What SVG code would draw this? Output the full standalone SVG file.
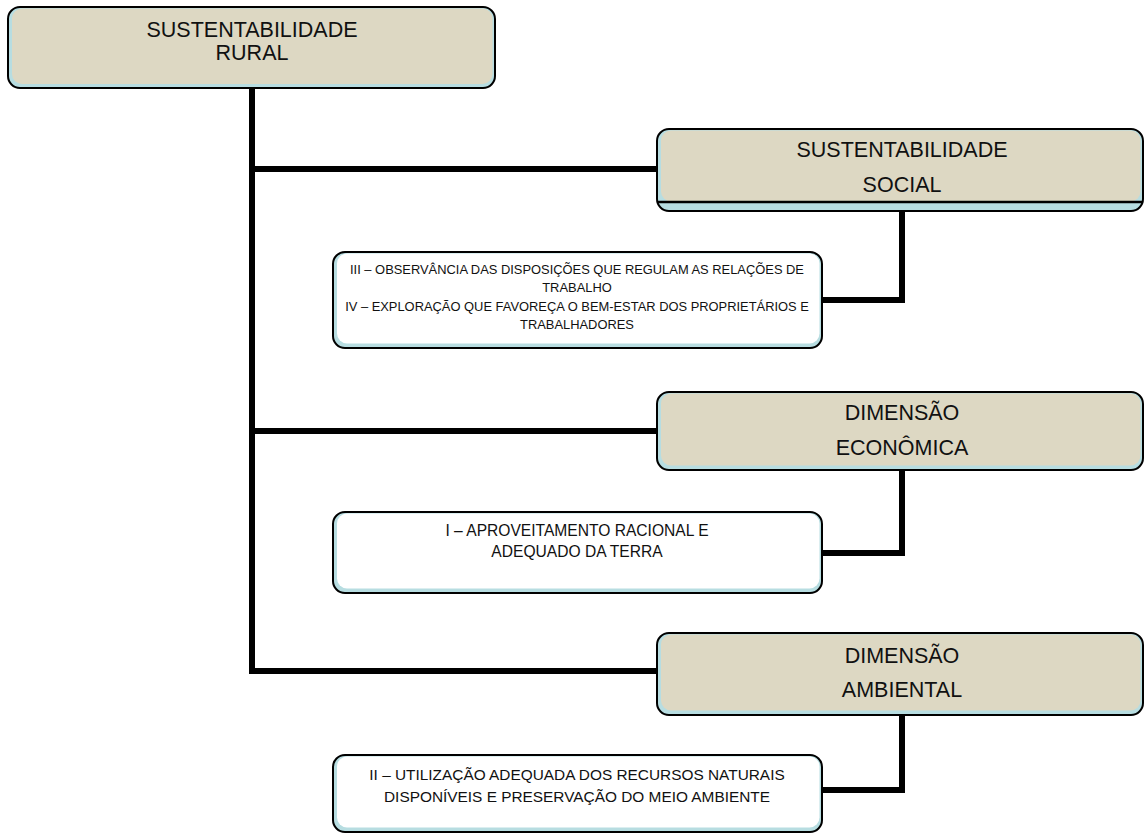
<svg xmlns="http://www.w3.org/2000/svg" width="1145" height="834" viewBox="0 0 1145 834">
  <style>
    .frame { fill: #B7DDE1; stroke: #000; stroke-width: 2; }
    .tan { fill: #DDD8C3; }
    .white { fill: #FFFFFF; }
    .title { font-family: "Liberation Sans", Arial, sans-serif; font-size: 21.5px; fill: #111; text-anchor: middle; }
    .item { font-family: "Liberation Sans", Arial, sans-serif; fill: #111; text-anchor: middle; }
    .wire { fill: none; stroke: #000; stroke-width: 6; stroke-linejoin: miter; stroke-linecap: butt; }
  </style>

  <!-- connectors -->
  <g id="connectors">
    <path class="wire" d="M252,88 V671 H657"/>
    <path class="wire" d="M252,169 H657"/>
    <path class="wire" d="M252,431 H657"/>
    <path class="wire" d="M902,211 V300 H822"/>
    <path class="wire" d="M902,470 V553 H822"/>
    <path class="wire" d="M902,715 V790 H822"/>
  </g>

  <!-- root -->
  <g id="sustentabilidade-rural">
    <rect class="frame" x="8" y="7" width="487" height="81" rx="12"/>
    <rect class="tan" x="12" y="8.5" width="480.5" height="75.5" rx="10"/>
    <text class="title" x="252" y="37">SUSTENTABILIDADE</text>
    <text class="title" x="252" y="60">RURAL</text>
  </g>

  <g id="sustentabilidade-social">
    <rect class="frame" x="657" y="129" width="486" height="82" rx="12"/>
    <rect class="tan" x="661" y="130.5" width="479.5" height="71" rx="10"/>
    <line x1="658" y1="202" x2="1143" y2="202" stroke="#000" stroke-width="2.5"/>
    <text class="title" x="902" y="157">SUSTENTABILIDADE</text>
    <text class="title" x="902" y="192">SOCIAL</text>
  </g>

  <g id="item-social">
    <rect class="frame" x="333" y="252" width="489" height="96" rx="12"/>
    <rect class="white" x="337" y="253.5" width="482.5" height="90" rx="10"/>
    <g class="item" font-size="12.9">
      <text x="577" y="274">III – OBSERVÂNCIA DAS DISPOSIÇÕES QUE REGULAM AS RELAÇÕES DE</text>
      <text x="577" y="292">TRABALHO</text>
      <text x="577" y="311">IV – EXPLORAÇÃO QUE FAVOREÇA O BEM-ESTAR DOS PROPRIETÁRIOS E</text>
      <text x="577" y="329">TRABALHADORES</text>
    </g>
  </g>

  <g id="dimensao-economica">
    <rect class="frame" x="657" y="392" width="486" height="78" rx="12"/>
    <rect class="tan" x="661" y="393.5" width="479.5" height="72" rx="10"/>
    <text class="title" x="902" y="420">DIMENSÃO</text>
    <text class="title" x="902" y="455">ECONÔMICA</text>
  </g>

  <g id="item-economica">
    <rect class="frame" x="333" y="512" width="489" height="81" rx="12"/>
    <rect class="white" x="337" y="513.5" width="482.5" height="75" rx="10"/>
    <g class="item" font-size="15.6">
      <text x="577" y="535.5">I – APROVEITAMENTO RACIONAL E</text>
      <text x="577" y="557">ADEQUADO DA TERRA</text>
    </g>
  </g>

  <g id="dimensao-ambiental">
    <rect class="frame" x="657" y="633" width="486" height="82" rx="12"/>
    <rect class="tan" x="661" y="634.5" width="479.5" height="76" rx="10"/>
    <text class="title" x="902" y="663">DIMENSÃO</text>
    <text class="title" x="902" y="697">AMBIENTAL</text>
  </g>

  <g id="item-ambiental">
    <rect class="frame" x="333" y="755" width="489" height="77" rx="12"/>
    <rect class="white" x="337" y="756.5" width="482.5" height="71" rx="10"/>
    <g class="item" font-size="15.4">
      <text x="577" y="780">II – UTILIZAÇÃO ADEQUADA DOS RECURSOS NATURAIS</text>
      <text x="577" y="802">DISPONÍVEIS E PRESERVAÇÃO DO MEIO AMBIENTE</text>
    </g>
  </g>
</svg>
